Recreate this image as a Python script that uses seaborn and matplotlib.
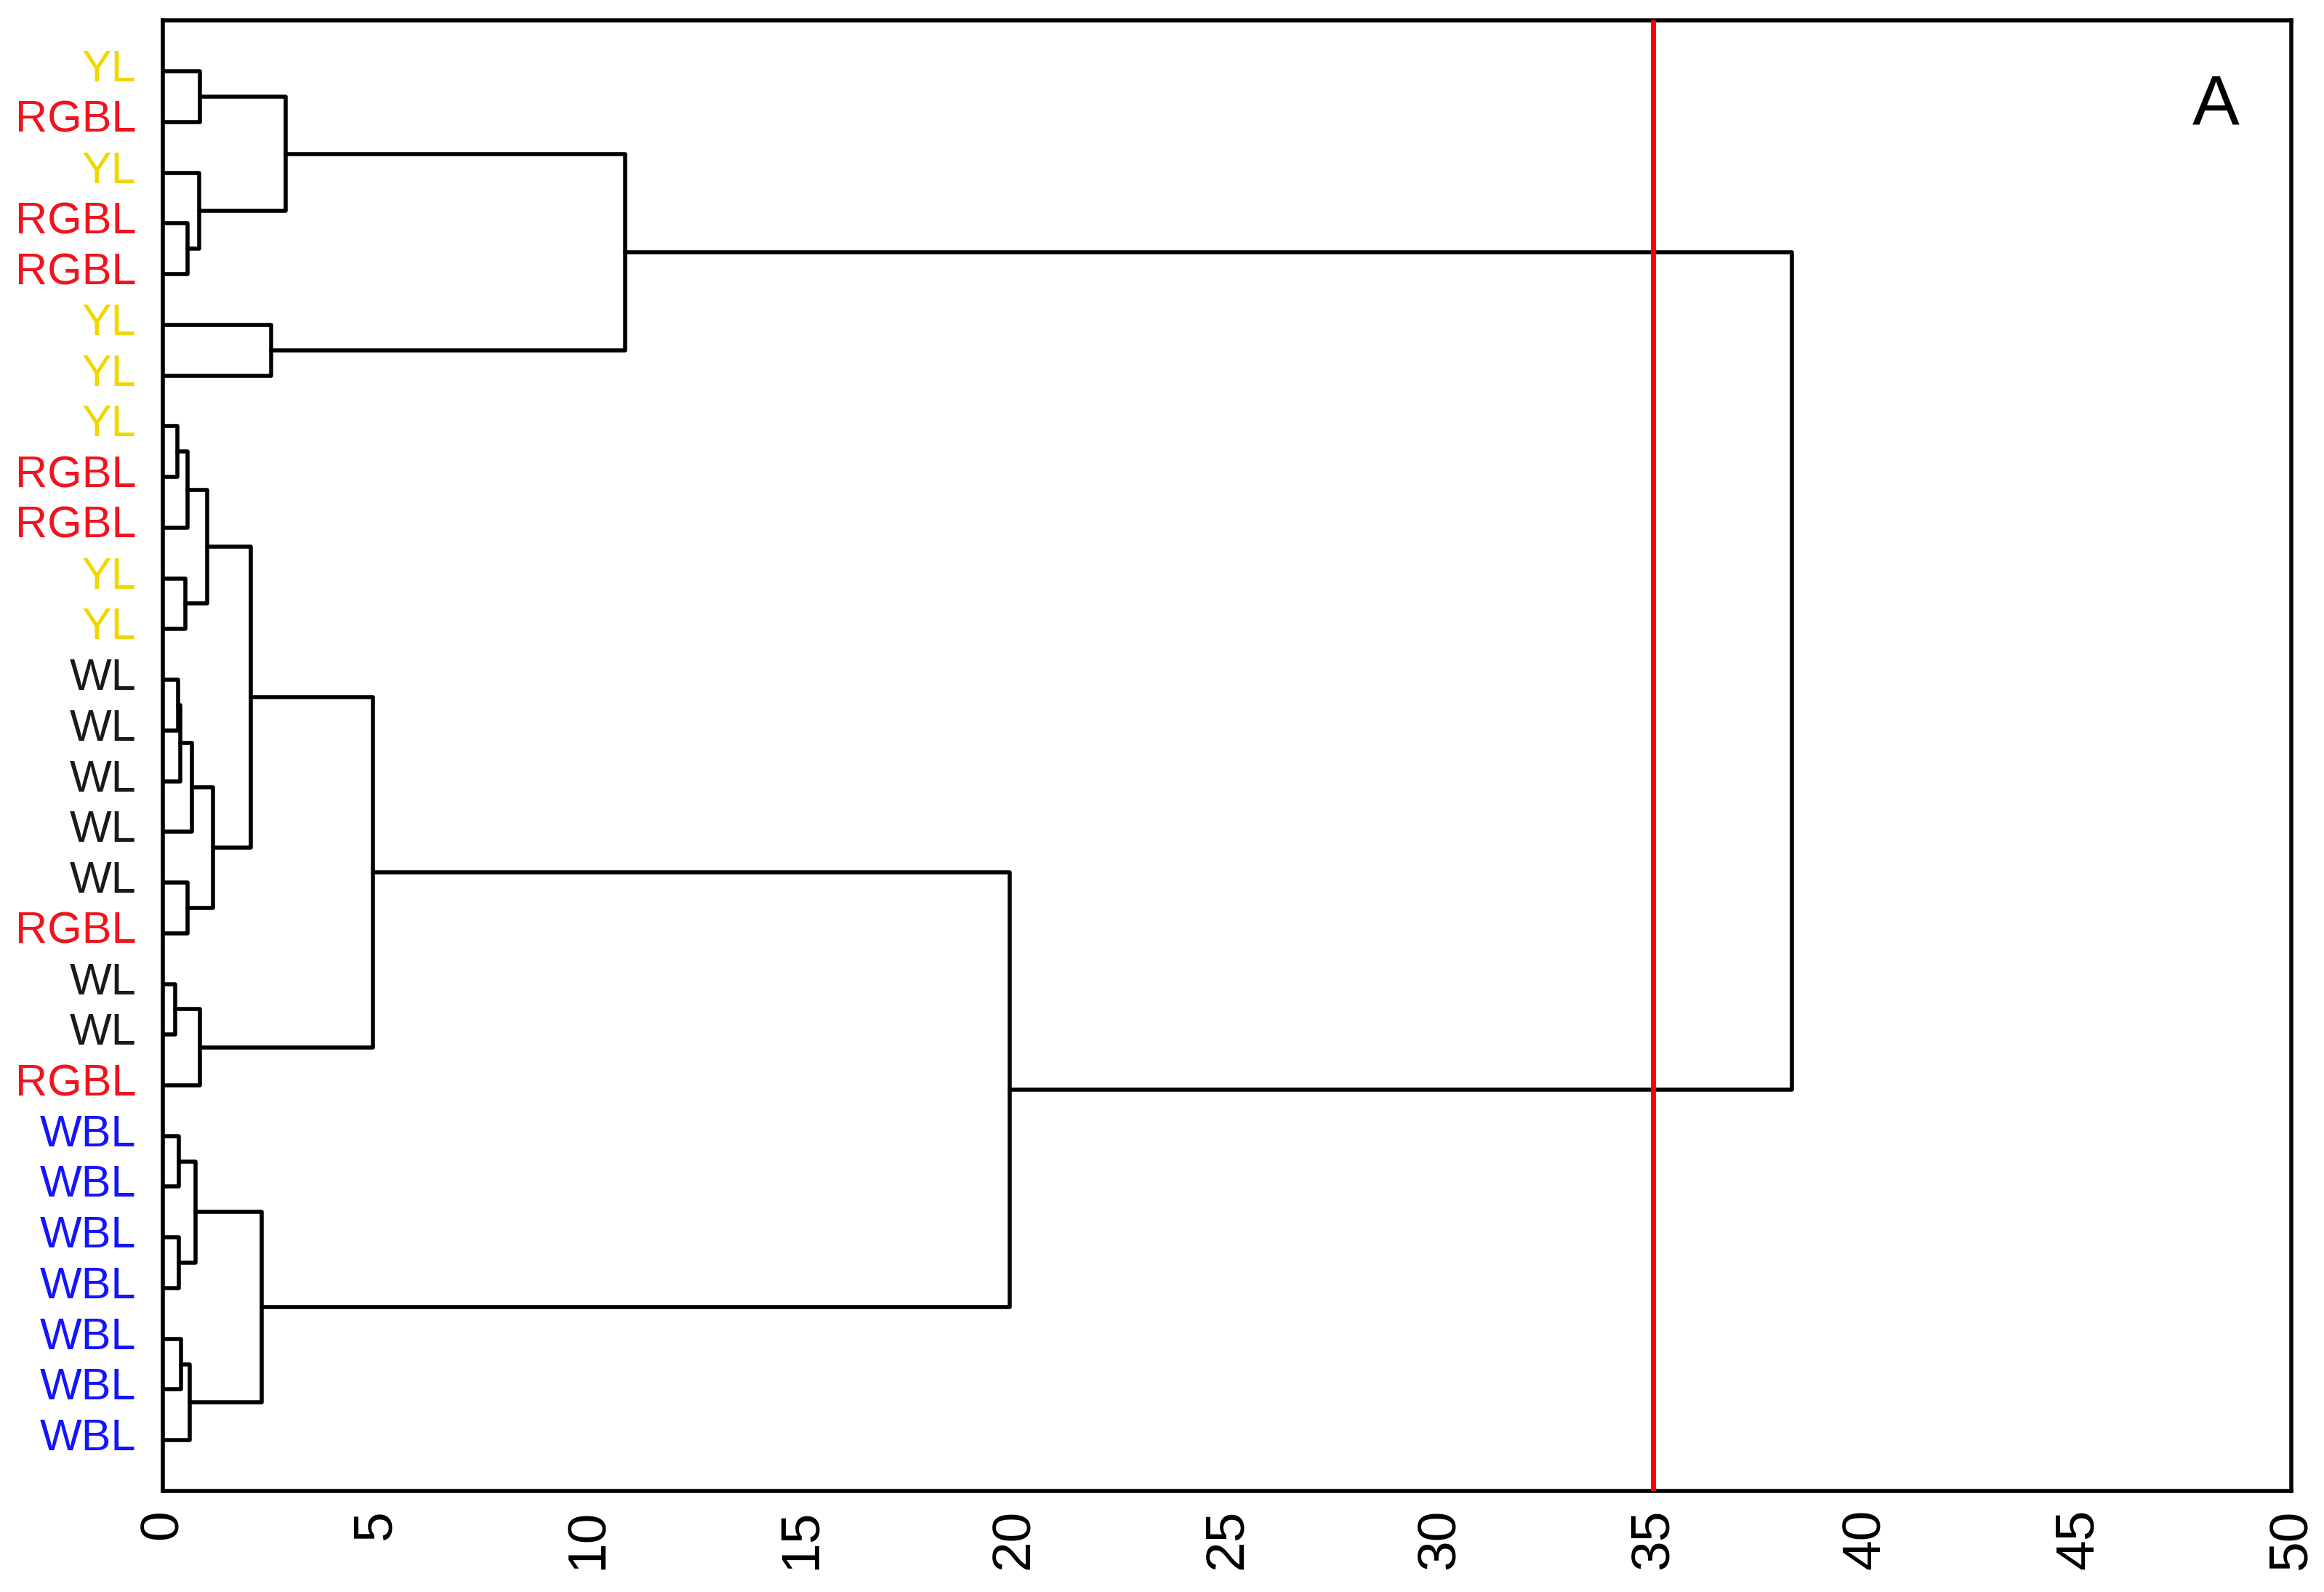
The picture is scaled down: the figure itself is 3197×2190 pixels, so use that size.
import numpy as np
import pandas as pd
import matplotlib
matplotlib.use("Agg")
import matplotlib.pyplot as plt
import matplotlib.transforms as mtransforms
import seaborn as sns

# 叶节点标签（自上而下）
leaf_labels = ["YL", "RGBL", "YL", "RGBL", "RGBL", "YL", "YL",
               "YL", "RGBL", "RGBL", "YL", "YL",
               "WL", "WL", "WL", "WL", "WL", "RGBL", "WL", "WL", "RGBL",
               "WBL", "WBL", "WBL", "WBL", "WBL", "WBL", "WBL"]

# 聚类合并记录：0-27 为叶节点，28 起为依次生成的合并节点
merge_left = [0, 3, 2, 28, 5, 31,
              7, 34, 10, 35, 12, 38, 39, 16, 40, 37,
              18, 44, 43,
              21, 23, 47, 25, 50, 49,
              46, 33]
merge_right = [1, 4, 29, 30, 6, 32,
               8, 9, 11, 36, 13, 14, 15, 17, 41, 42,
               19, 20, 45,
               22, 24, 48, 26, 27, 51,
               52, 53]
merge_height = [0.87, 0.59, 0.85, 2.89, 2.55, 10.86,
                0.34, 0.59, 0.53, 1.04, 0.36, 0.42, 0.68, 0.59, 1.18, 2.07,
                0.30, 0.87, 4.93,
                0.38, 0.38, 0.78, 0.43, 0.63, 2.32,
                19.9, 38.27]

cut_distance = 35
x_ticks = [0, 5, 10, 15, 20, 25, 30, 35, 40, 45, 50]

label_colors = {"YL": "#f0d700", "RGBL": "#f0141e", "WBL": "#1414ff", "WL": "#1a1a1a"}

sns.set_style("white")
plt.rcParams['font.family'] = ['Liberation Sans', 'DejaVu Sans']


def dendrogram_segments(n_leaves, lefts, rights, heights):
    """按合并记录计算树状图每个 U 形连接的坐标"""
    pos = {i: float(i) for i in range(n_leaves)}
    hgt = {i: 0.0 for i in range(n_leaves)}
    rows = []
    for k, (a, b, d) in enumerate(zip(lefts, rights, heights)):
        rows += [(k, hgt[a], pos[a]), (k, d, pos[a]),
                 (k, d, pos[b]), (k, hgt[b], pos[b])]
        pos[n_leaves + k] = (pos[a] + pos[b]) / 2
        hgt[n_leaves + k] = d
    return pd.DataFrame(rows, columns=["link", "x", "y"])


seg_df = dendrogram_segments(len(leaf_labels), merge_left, merge_right, merge_height)

fig = plt.figure(figsize=(15.985, 10.95), dpi=200)
ax = fig.add_axes([0.070, 0.0635, 0.916, 0.9235])

sns.lineplot(data=seg_df, x="x", y="y", units="link", estimator=None,
             sort=False, color="black", lw=2.0, legend=False, ax=ax)
ax.axvline(cut_distance, color="#ff0000", lw=2.5, zorder=3)

ax.set_xlim(0, 50)
ax.set_ylim(len(leaf_labels), -1)
ax.set_xticks(x_ticks)
ax.set_xticklabels([str(t) for t in x_ticks], rotation=90, fontsize=27)
ax.set_yticks(range(len(leaf_labels)))
ax.set_yticklabels(leaf_labels, fontsize=22)
ax.set_xlabel("")
ax.set_ylabel("")

ax.tick_params(axis="x", direction="in", length=4.7, width=1.0, pad=9, colors="black")
ax.tick_params(axis="y", length=0, pad=13)

# 标签略高于连线
offset = mtransforms.ScaledTranslation(0, 0.04, fig.dpi_scale_trans)
for lab in ax.get_yticklabels():
    lab.set_color(label_colors[lab.get_text()])
    lab.set_transform(lab.get_transform() + offset)

for side in ["top", "bottom", "left", "right"]:
    ax.spines[side].set_visible(True)
    ax.spines[side].set_color("black")
    ax.spines[side].set_linewidth(2.0)

ax.text(0.9645, 0.942, "A", transform=ax.transAxes, ha="center", va="center",
        fontsize=35, color="black")

fig.savefig("out.png", dpi=200, facecolor="white")
